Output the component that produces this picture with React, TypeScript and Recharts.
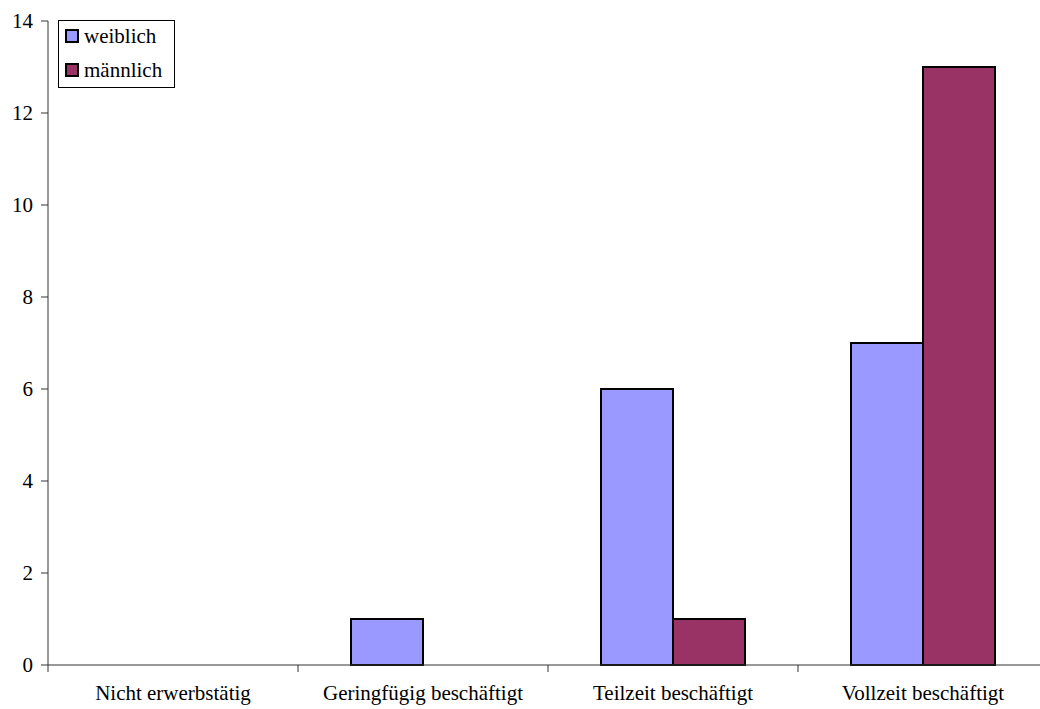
import React from "react";
import { BarChart, Bar, XAxis, YAxis } from "recharts";

const categories = ["Nicht erwerbstätig", "Geringfügig beschäftigt", "Teilzeit beschäftigt", "Vollzeit beschäftigt"];
const weiblich = [0, 1, 6, 7];
const maennlich = [0, 0, 1, 13];
const yTicks = [0, 2, 4, 6, 8, 10, 12, 14];

const data = categories.map((c, i) => ({ name: c, weiblich: weiblich[i], männlich: maennlich[i] }));

const FONT = "'Liberation Serif', 'Times New Roman', serif";
const FS = 21;

const CategoryTick = (props: any) => {
  const { x, y, payload } = props;
  return (
    <g>
      <line x1={x - 125} y1={y} x2={x - 125} y2={y + 7} stroke="#333" />
      <text x={x} y={y + 20} dy="0.71em" textAnchor="middle" fill="#000" fontFamily={FONT} fontSize={FS}>
        {payload.value}
      </text>
    </g>
  );
};

const legendItems = [
  { label: "weiblich", color: "#9999FF", top: 8 },
  { label: "männlich", color: "#993366", top: 42 },
];

export default function App() {
  return (
    <div style={{ position: "absolute", left: 0, top: 0, width: 1040, height: 709, overflow: "hidden", background: "#fff" }}>
      <BarChart
        width={1060}
        height={709}
        data={data}
        margin={{ top: 21, right: 12, bottom: 0, left: 0 }}
        barCategoryGap={53}
        barGap={0}
      >
        <YAxis
          width={48}
          domain={[0, 14]}
          ticks={yTicks}
          interval={0}
          tickSize={7}
          tickMargin={8}
          axisLine={{ stroke: "#333" }}
          tickLine={{ stroke: "#333" }}
          tick={{ fill: "#000", fontFamily: FONT, fontSize: FS }}
          fontSize={FS}
        />
        <XAxis
          dataKey="name"
          height={44}
          tickSize={0}
          tickMargin={0}
          interval={0}
          axisLine={{ stroke: "#333" }}
          tickLine={false}
          tick={<CategoryTick />}
        />
        <Bar dataKey="weiblich" fill="#9999FF" stroke="#000" strokeWidth={2} isAnimationActive={false} />
        <Bar dataKey="männlich" fill="#993366" stroke="#000" strokeWidth={2} isAnimationActive={false} />
      </BarChart>
      <div
        style={{
          position: "absolute",
          left: 58,
          top: 20,
          width: 117,
          height: 68,
          border: "1px solid #000",
          background: "#fff",
          fontFamily: FONT,
          fontSize: FS,
          color: "#000",
          boxSizing: "border-box",
        }}
      >
        {legendItems.map((it) => (
          <React.Fragment key={it.label}>
            <div
              style={{
                position: "absolute",
                left: 6,
                top: it.top,
                width: 10,
                height: 10,
                background: it.color,
                border: "2px solid #000",
              }}
            />
            <span style={{ position: "absolute", left: 25, top: it.top - 3, lineHeight: "21px", whiteSpace: "nowrap" }}>
              {it.label}
            </span>
          </React.Fragment>
        ))}
      </div>
    </div>
  );
}
